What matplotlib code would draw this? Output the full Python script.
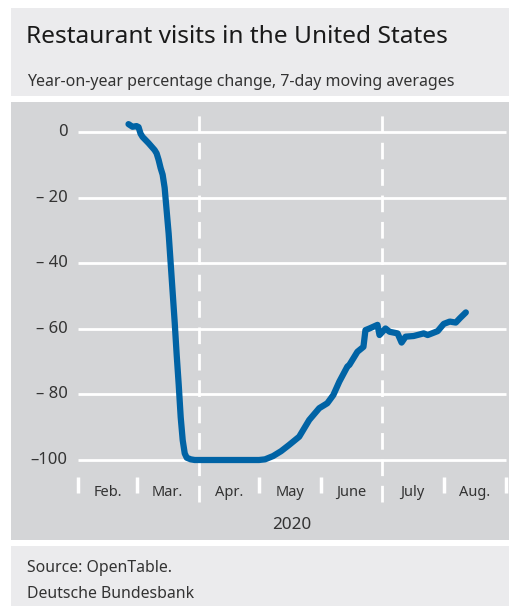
import matplotlib.pyplot as plt
from matplotlib.patches import Rectangle
import pandas as pd

plt.rcParams['font.family'] = ['Noto Sans', 'DejaVu Sans']

# restaurant visits, yoy % change, 7-day moving average
dates = ['2020-02-26', '2020-02-28', '2020-03-01', '2020-03-02', '2020-03-03',
         '2020-03-04', '2020-03-07', '2020-03-10', '2020-03-11', '2020-03-12',
         '2020-03-13', '2020-03-14', '2020-03-15', '2020-03-16', '2020-03-17',
         '2020-03-18', '2020-03-19', '2020-03-20', '2020-03-21', '2020-03-22',
         '2020-03-23', '2020-03-24', '2020-03-25', '2020-03-26', '2020-03-28',
         '2020-03-30', '2020-05-01', '2020-05-04', '2020-05-08', '2020-05-12',
         '2020-05-16', '2020-05-21', '2020-05-26', '2020-05-31', '2020-06-04',
         '2020-06-07', '2020-06-10', '2020-06-14', '2020-06-15', '2020-06-19',
         '2020-06-22', '2020-06-23', '2020-06-25', '2020-06-29', '2020-06-30',
         '2020-07-03', '2020-07-05', '2020-07-09', '2020-07-11', '2020-07-13',
         '2020-07-17', '2020-07-22', '2020-07-24', '2020-07-29', '2020-08-01',
         '2020-08-04', '2020-08-07', '2020-08-09', '2020-08-12']
visits = [2.4, 1.6, 1.8, 1.5, -0.5,
          -1.5, -3.4, -5.5, -6.5, -8.5,
          -11.0, -13.0, -17.0, -24.0, -31.0,
          -40.0, -49.0, -58.0, -68.0, -77.0,
          -87.0, -94.0, -98.0, -99.3, -99.8,
          -100.0, -100.0, -99.8, -98.8, -97.3,
          -95.4, -92.9, -87.8, -84.2, -82.7,
          -80.2, -76.1, -71.5, -71.0, -67.0,
          -65.5, -60.4, -59.9, -58.8, -61.9,
          -59.9, -60.9, -61.4, -64.2, -62.4,
          -62.2, -61.4, -61.9, -60.7, -58.5,
          -57.8, -58.1, -56.8, -55.0]

months = ['Feb.', 'Mar.', 'Apr.', 'May', 'June', 'July', 'Aug.']
month_starts = ['2020-02-01', '2020-03-01', '2020-04-01', '2020-05-01',
                '2020-06-01', '2020-07-01', '2020-08-01', '2020-09-01']
yticks = [0, -20, -40, -60, -80, -100]
ylabels = ['0', '\u2013 20', '\u2013 40', '\u2013 60', '\u2013 80', '\u2013100']

dates = pd.to_datetime(dates)
month_starts = pd.to_datetime(month_starts)

W, H = 509, 606
fig = plt.figure(figsize=(W / 100, H / 100), dpi=100)
fig.patch.set_facecolor('white')

light = '#ebebed'
panel = '#d4d5d7'
blue = '#0063a5'
txt = '#333333'

def fx(px):
    return px / W

def fy(py):
    return 1 - py / H

# header and footer panels
fig.patches.append(Rectangle((fx(11), fy(96)), fx(498), 88 / H, transform=fig.transFigure,
                             facecolor=light, edgecolor='none', zorder=0))
fig.patches.append(Rectangle((fx(11), 0), fx(498), 60 / H, transform=fig.transFigure,
                             facecolor=light, edgecolor='none', zorder=0))

fig.text(fx(26), fy(43), 'Restaurant visits in the United States', fontsize=17.6,
         color='#1a1a1a', va='baseline', ha='left')
fig.text(fx(27), fy(86), 'Year-on-year percentage change, 7-day moving averages',
         fontsize=11.5, color=txt, va='baseline', ha='left')
fig.text(fx(27), fy(572), 'Source: OpenTable.', fontsize=11.4, color=txt, va='baseline')
fig.text(fx(27), fy(598), 'Deutsche Bundesbank', fontsize=11.4, color=txt, va='baseline')

# plot panel = axes
ax = fig.add_axes([fx(11), fy(540), fx(498), 438 / H])
ax.set_facecolor(panel)
for s in ax.spines.values():
    s.set_visible(False)
ax.set_xticks([])
ax.set_yticks([])

px_day = 2.008
px_unit = 3.28
x0 = month_starts[0]
ax.set_xlim(x0 - pd.Timedelta(days=(78.3 - 11) / px_day),
            x0 + pd.Timedelta(days=(509 - 78.3) / px_day))
ax.set_ylim(-100 - (540 - 460) / px_unit, (132 - 102) / px_unit)

def py2v(py):
    return -100 - (py - 460) / px_unit

# grid lines
ax.hlines(yticks, month_starts[0], month_starts[-1], colors='white', lw=2, zorder=1)
for y, lab in zip(yticks, ylabels):
    ax.text(x0 - pd.Timedelta(days=5.2), y, lab, ha='right', va='center',
            fontsize=12, color=txt)

# month ticks and labels
for d in month_starts:
    if d.month in (4, 7):
        ax.vlines(d, py2v(502), py2v(113), colors='white', lw=2,
                  linestyles=(0, (6, 3.5)), zorder=1)
    else:
        ax.vlines(d, py2v(493), py2v(477), colors='white', lw=2.5, zorder=1)
for i, m in enumerate(months):
    mid = month_starts[i] + (month_starts[i + 1] - month_starts[i]) / 2
    ax.text(mid, py2v(496), m, ha='center', va='baseline', fontsize=10.5, color=txt)
ax.text(x0 + (month_starts[-1] - x0) / 2, py2v(529), '2020',
        ha='center', va='baseline', fontsize=12.3, color=txt)

ax.plot(dates, visits, color=blue, lw=4.5, solid_capstyle='round',
        solid_joinstyle='round', zorder=3)

fig.savefig('out.png', dpi=100)
